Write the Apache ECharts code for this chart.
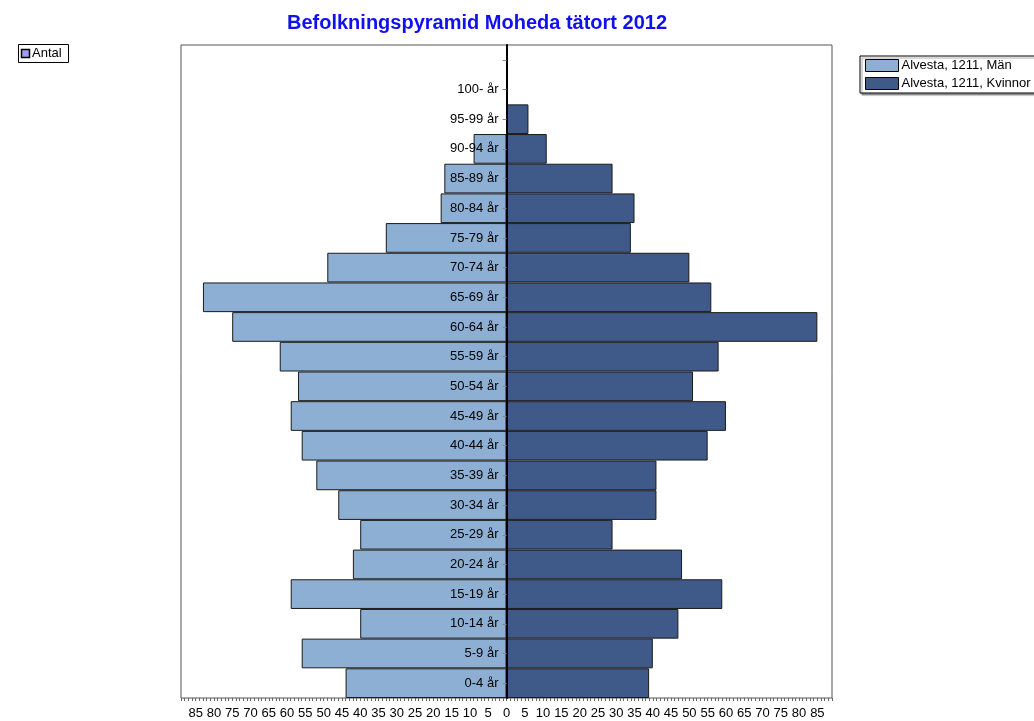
<!DOCTYPE html>
<html>
<head>
<meta charset="utf-8">
<script src="https://cdn.jsdelivr.net/npm/echarts@6/dist/echarts.min.js"></script>
<style>
  html, body { margin: 0; padding: 0; background: #fff; }
  #chart { width: 1034px; height: 721px; }
</style>
</head>
<body>
<div id="chart"></div>
<script>
// age groups, bottom to top (last one is an empty band at the top)
const ageGroups = ['0-4 år', '5-9 år', '10-14 år', '15-19 år', '20-24 år', '25-29 år', '30-34 år',
  '35-39 år', '40-44 år', '45-49 år', '50-54 år', '55-59 år', '60-64 år', '65-69 år', '70-74 år',
  '75-79 år', '80-84 år', '85-89 år', '90-94 år', '95-99 år', '100- år', ''];

// antal per group
const men = [44, 56, 40, 59, 42, 40, 46, 52, 56, 59, 57, 62, 75, 83, 49, 33, 18, 17, 9, 0, 0, 0];
const women = [39, 40, 47, 59, 48, 29, 41, 41, 55, 60, 51, 58, 85, 56, 50, 34, 35, 29, 11, 6, 0, 0];

const seriesNames = ['Alvesta, 1211, Män', 'Alvesta, 1211, Kvinnor'];

const font = 'Liberation Sans, Arial, sans-serif';

const chart = echarts.init(document.getElementById('chart'));

chart.setOption({
  animation: false,
  backgroundColor: '#fff',
  title: {
    text: 'Befolkningspyramid Moheda tätort 2012',
    left: 282,
    top: 8,
    textStyle: { color: '#1010f0', fontFamily: font, fontWeight: 'bold', fontSize: 20 }
  },
  legend: {
    orient: 'vertical',
    left: 860,
    top: 56,
    padding: [3, 4, 3, 5],
    itemGap: 5,
    itemWidth: 33,
    itemHeight: 12,
    icon: 'rect',
    borderColor: '#000',
    borderWidth: 1,
    shadowColor: 'rgba(0,0,0,0.35)',
    shadowOffsetX: 2,
    shadowOffsetY: 2,
    shadowBlur: 1,
    backgroundColor: '#fff',
    textStyle: { fontFamily: font, fontSize: 13, color: '#000', padding: [0, 0, 0, -2] },
    itemStyle: { borderColor: '#000', borderWidth: 1 },
    data: seriesNames
  },
  graphic: [
    { type: 'rect', shape: { x: 18.5, y: 44.5, width: 50, height: 18 },
      style: { fill: '#fff', stroke: '#000', lineWidth: 1 } },
    { type: 'rect', shape: { x: 21.5, y: 49.5, width: 8, height: 8 },
      style: { fill: '#9d9df5', stroke: '#000', lineWidth: 1.5 } },
    { type: 'text', x: 32, y: 47,
      style: { text: 'Antal', fill: '#000', font: '13px ' + font } }
  ],
  grid: {
    left: 181,
    right: 202,
    top: 45,
    bottom: 23,
    show: true,
    borderColor: '#555',
    borderWidth: 1
  },
  xAxis: {
    type: 'value',
    min: -89,
    max: 89,
    interval: 1,
    splitLine: { show: false },
    axisLine: { onZero: false, lineStyle: { color: '#000', width: 1 } },
    axisTick: { show: true, length: 3, lineStyle: { color: '#666' } },
    axisLabel: {
      color: '#000',
      fontFamily: font,
      fontSize: 13,
      margin: 9,
      formatter: function (v) { return v % 5 === 0 ? String(Math.abs(v)) : ''; }
    }
  },
  yAxis: {
    type: 'category',
    data: ageGroups,
    z: 10,
    offset: -325.5,
    axisLine: { onZero: false, lineStyle: { color: '#000', width: 2 } },
    axisTick: { show: true, length: 4, alignWithLabel: true, lineStyle: { color: '#888' } },
    axisLabel: { color: '#000', fontFamily: font, fontSize: 13, margin: 8 },
    splitLine: { show: false }
  },
  series: [
    {
      name: seriesNames[0],
      type: 'bar',
      stack: 'pyramid',
      barCategoryGap: 0,
      itemStyle: { color: '#8eafd4', borderColor: '#1a1a1a', borderWidth: 1 },
      data: men.map(function (v) { return -v; })
    },
    {
      name: seriesNames[1],
      type: 'bar',
      stack: 'pyramid',
      barCategoryGap: 0,
      itemStyle: { color: '#3f5a89', borderColor: '#1a1a1a', borderWidth: 1 },
      data: women
    }
  ]
});
</script>
</body>
</html>
